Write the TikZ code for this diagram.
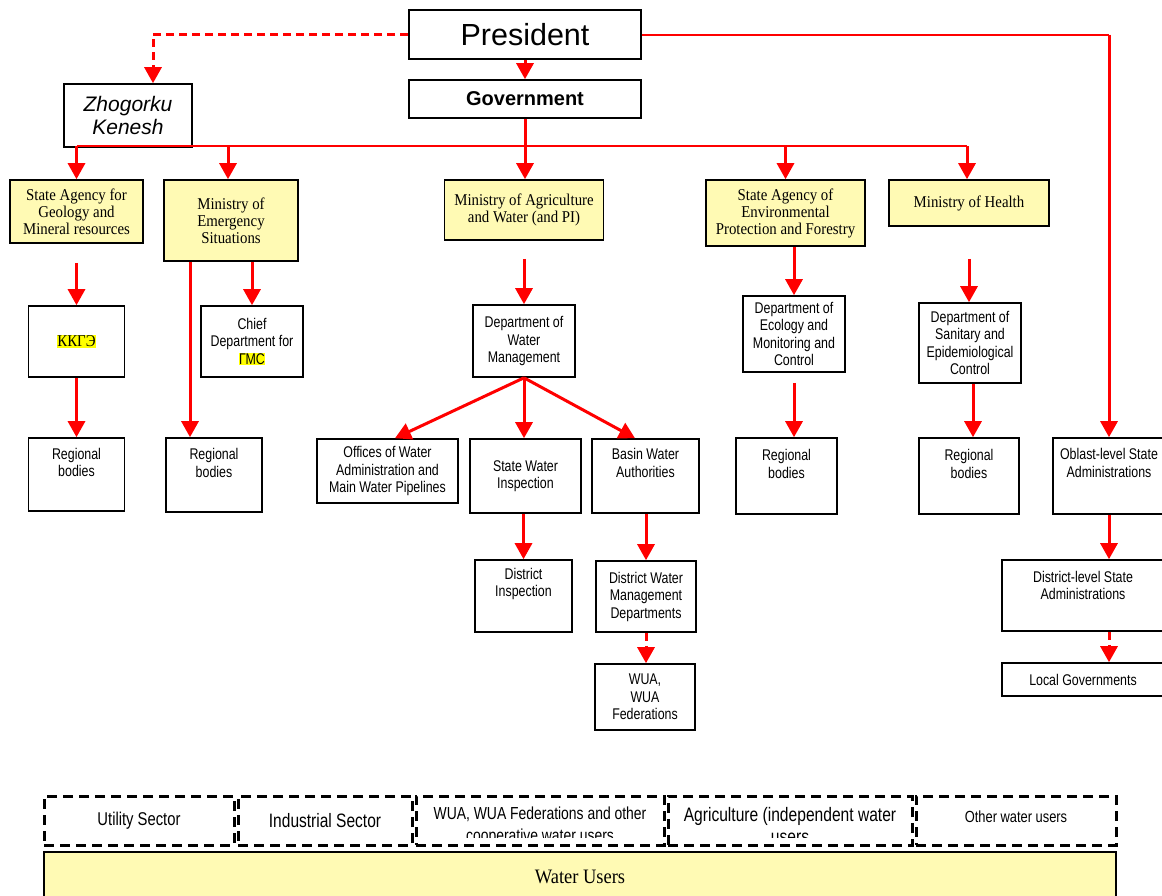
\documentclass[tikz,border=0pt]{standalone}
\usepackage{fontspec}
\setmainfont{Liberation Serif}
\setsansfont{Liberation Sans}
\newfontfamily\narrowsans[FakeStretch=0.8]{Liberation Sans}
\newfontfamily\narrowserif[FakeStretch=0.9]{Liberation Serif}
\usetikzlibrary{arrows.meta,positioning}
\tikzset{>={Triangle[width=17pt,length=16pt]}}
\definecolor{boxyellow}{RGB}{255,250,180}
\definecolor{hiyellow}{RGB}{255,255,0}
\newcommand{\boxfont}{\narrowsans\fontsize{15.5}{17.5}\selectfont}
\newcommand{\agencyfont}{\narrowserif\fontsize{16.5}{17}\selectfont}
\newcommand{\hilite}[1]{{\setlength{\fboxsep}{0.6pt}\colorbox{hiyellow}{#1}}}

\begin{document}
\begin{tikzpicture}[x=1pt,y=-1pt,
  wh/.style 2 args={minimum width=#1pt,minimum height=#2pt},
  box/.style={draw,line width=1.6pt,inner sep=0pt,align=center,font=\boxfont},
  agency/.style={box,fill=boxyellow,font=\agencyfont},
  usersbox/.style={draw,line width=3pt,dash pattern=on 10pt off 6pt,inner sep=0pt,align=center},
  txt/.style={align=center,inner sep=0pt,font=\boxfont},
  link/.style={->,red,line width=3pt},
  dashlink/.style={link,dash pattern=on 8pt off 5pt},
  bus/.style={red,line width=2pt}]

  \useasboundingbox (0,0) rectangle (1162,895);
  \clip (0,0) rectangle (1162,895);

  % top
  \node[box,wh={232}{49},font=\sffamily\fontsize{30.5}{32}\selectfont] (pres) at (525,34.5) {President};
  \node[box,wh={232}{38},font=\sffamily\bfseries\fontsize{20}{22}\selectfont] (gov) at (525,99) {Government};
  \node[box,wh={128}{63},font=\sffamily\itshape\fontsize{21}{23}\selectfont] (zk) at (128,115.5) {Zhogorku\\Kenesh};

  % ministries and agencies
  \node[agency,wh={133}{63}] (sag) at (76.5,211.5) {State Agency for\\Geology and\\Mineral resources};
  \node[agency,wh={134}{81}] (mes) at (231,220.5) {Ministry of\\Emergency\\Situations};
  \node[agency,wh={159}{60}] (moa) at (524,210) {Ministry of Agriculture\\and Water (and PI)};
  \node[agency,wh={159}{66}] (env) at (785.5,213) {State Agency of\\Environmental\\Protection and Forestry};
  \node[agency,wh={160}{46}] (moh) at (969,203) {Ministry of Health};

  % departments
  \node[box,wh={96}{71},font=\agencyfont] (kkge) at (76.5,341.5) {\hilite{ККГЭ}};
  \node[box,wh={102}{71}] (chief) at (252,341.5) {Chief\\Department for\\\hilite{ГМС}};
  \node[box,wh={102}{72}] (dwm) at (524,341) {Department of\\Water\\Management};
  \node[box,wh={102}{76}] (eco) at (794,334) {Department of\\Ecology and\\Monitoring and\\Control};
  \node[box,wh={102}{80}] (san) at (970,343) {Department of\\Sanitary and\\Epidemiological\\Control};

  % regional level
  \node[box,wh={96}{73}] (rb1) at (76.5,474.5) {};
  \node[txt] (rb1t) at ([yshift=12pt]rb1.center) {Regional\\bodies};
  \node[box,wh={96}{74}] (rb2) at (214,475) {};
  \node[txt] (rb2t) at ([yshift=12pt]rb2.center) {Regional\\bodies};
  \node[box,wh={141}{64}] (owa) at (387.5,471) {Offices of Water\\Administration and\\Main Water Pipelines};
  \node[box,wh={111}{74}] (swi) at (525.5,476) {State Water\\Inspection};
  \node[box,wh={107}{74}] (bwa) at (645.5,476) {};
  \node[txt] (bwat) at ([yshift=13pt]bwa.center) {Basin Water\\Authorities};
  \node[box,wh={101}{76}] (rb3) at (786.5,476) {};
  \node[txt] (rb3t) at ([yshift=12pt]rb3.center) {Regional\\bodies};
  \node[box,wh={100}{76}] (rb4) at (969,476) {};
  \node[txt] (rb4t) at ([yshift=12pt]rb4.center) {Regional\\bodies};
  \node[box,wh={112}{76}] (obl) at (1109,476) {};
  \node[txt] (oblt) at ([yshift=13pt]obl.center) {Oblast-level State\\Administrations};

  % district level
  \node[box,wh={97}{72}] (dins) at (523.5,596) {};
  \node[txt] (dinst) at ([yshift=12pt]dins.center) {District\\Inspection};
  \node[box,wh={100}{71}] (dwmd) at (646,596.5) {District Water\\Management\\Departments};
  \node[box,wh={100}{66}] (wua) at (645,697) {WUA,\\WUA\\Federations};
  \node[box,wh={162}{71}] (dls) at (1083,595.5) {};
  \node[txt] (dlst) at ([yshift=10pt]dls.center) {District-level State\\Administrations};
  \node[box,wh={162}{33}] (lg) at (1083,679.5) {Local Governments};

  % water users
  \node[usersbox,wh={190}{49},font=\narrowsans\fontsize{18.5}{21}\selectfont] (util) at (139,820.5) {Utility Sector};
  \node[usersbox,wh={174}{49},font=\narrowsans\fontsize{19.4}{21}\selectfont] (ind) at (325,820.5) {Industrial Sector};
  \node[usersbox,wh={248}{49}] (coop) at (540,820.5) {};
  \begin{scope}
    \clip ([yshift=9pt]coop.south west) rectangle (coop.north east);
    \node[txt,font=\narrowsans\fontsize{17.4}{22}\selectfont] (coopt) at (540,826) {WUA, WUA Federations and other\\cooperative water users};
  \end{scope}
  \node[usersbox,wh={244}{49}] (agr) at (790,820.5) {};
  \begin{scope}
    \clip ([yshift=9pt]agr.south west) rectangle (agr.north east);
    \node[txt,font=\narrowsans\fontsize{19.5}{22}\selectfont] (agrt) at (790,826) {Agriculture (independent water\\users};
  \end{scope}
  \node[usersbox,wh={200}{49}] (oth) at (1016,820.5) {};
  \node[txt,font=\narrowsans\fontsize{16.1}{20}\selectfont] (otht) at ([yshift=4pt]oth.center) {Other water users};
  \node[box,fill=boxyellow,line width=2.4pt,wh={1072}{50},font=\narrowserif\fontsize{20.5}{22}\selectfont] (wu) at (580,877) {Water Users};

  % connectors from the top
  \draw[dashlink] (pres.west) -| ([xshift=25pt]zk.north);
  \draw[link] (pres.south) -- (pres.south |- gov.north);
  \draw[bus] (pres.east) -- (obl.north |- pres.east);
  \draw[link] (obl.north |- pres.east) -- (obl.north);

  % government bus
  \coordinate (busy) at (0,146);
  \draw[bus] (sag.north |- busy) -- ([xshift=-2pt]moh.north |- busy);
  \draw[link] (gov.south) -- (gov.south |- moa.north);
  \draw[link] (sag.north |- busy) -- (sag.north);
  \draw[link] ([xshift=-3pt]mes.north |- busy) -- ([xshift=-3pt]mes.north);
  \draw[link] (env.north |- busy) -- (env.north);
  \draw[link] ([xshift=-2pt]moh.north |- busy) -- ([xshift=-2pt]moh.north);

  % left branches
  \coordinate (sag-b) at ([yshift=-19pt]sag.south);
  \draw[link] (sag-b) -- (sag-b |- kkge.north);
  \draw[link] (kkge.south) -- (kkge.south |- rb1.north);
  \draw[link] (mes.south -| chief.north) -- (chief.north);
  \coordinate (mes-b) at ([xshift=-41pt]mes.south);
  \draw[link] (mes-b) -- (mes-b |- rb2.north);

  % water branch
  \coordinate (moa-b) at ([yshift=-18pt]moa.south);
  \draw[link] (moa-b) -- (moa-b |- dwm.north);
  \draw[link] (dwm.south) -- ([xshift=7.5pt]owa.north);
  \draw[link] (dwm.south) -- (dwm.south |- swi.north);
  \draw[link] (dwm.south) -- ([xshift=-10.5pt]bwa.north);
  \draw[link] (swi.south -| dins.north) -- (dins.north);
  \draw[link] (bwa.south -| dwmd.north) -- (dwmd.north);
  \draw[dashlink] (dwmd.south) -- (dwmd.south |- wua.north);

  % environment and health
  \draw[link] (env.south -| eco.north) -- (eco.north);
  \coordinate (eco-b) at ([yshift=-10pt]eco.south);
  \draw[link] (eco-b) -- (eco-b |- rb3.north);
  \coordinate (moh-b) at ([yshift=-32pt]moh.south);
  \draw[link] (moh-b) -- (moh-b |- san.north);
  \coordinate (san-b) at ([xshift=3pt]san.south);
  \draw[link] (san-b) -- (san-b |- rb4.north);

  % oblast branch
  \draw[link] (obl.south) -- (obl.south |- dls.north);
  \draw[dashlink] (obl.south |- dls.south) -- (obl.south |- lg.north);

\end{tikzpicture}
\end{document}
